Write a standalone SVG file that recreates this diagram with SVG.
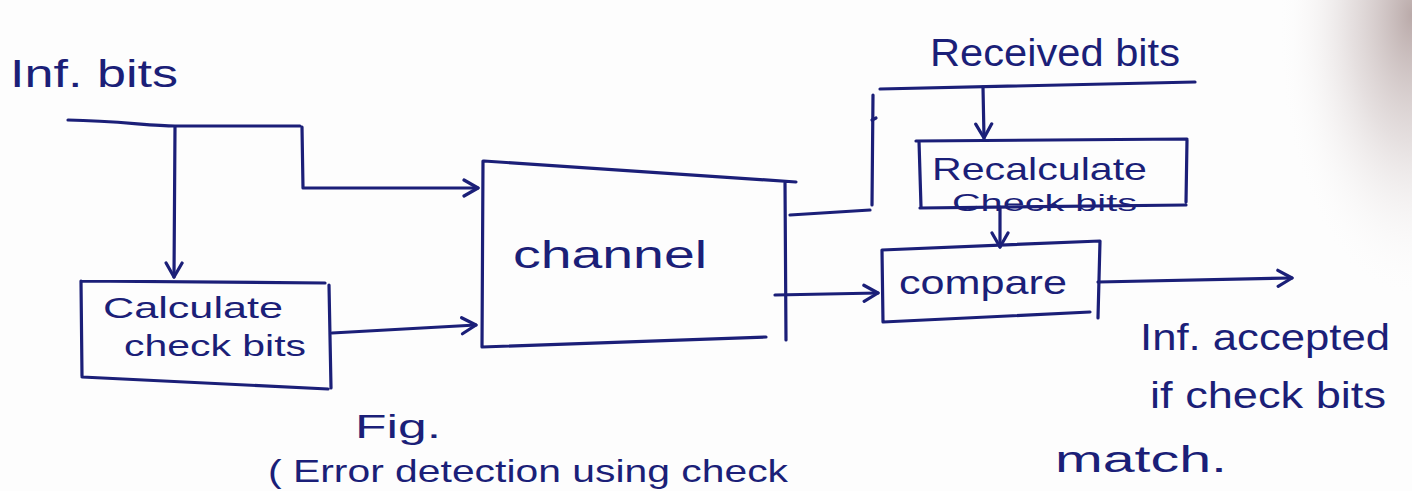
<svg xmlns="http://www.w3.org/2000/svg" width="1412" height="491" viewBox="0 0 1412 491">
  <defs>
    <style>
      .ink { fill: none; stroke: #1b1f78; stroke-width: 3.2; stroke-linecap: round; stroke-linejoin: round; }
      .lbl { fill: #1b1f78; font-family: "Liberation Sans", "DejaVu Sans", sans-serif; }
    </style>
    <marker id="arrow" viewBox="0 0 20 20" refX="18" refY="10" markerWidth="20" markerHeight="20" markerUnits="userSpaceOnUse" orient="auto">
      <path d="M4,2 L18,10 L4,18" fill="none" stroke="#1b1f78" stroke-width="3.2" stroke-linecap="round" stroke-linejoin="round"/>
    </marker>
    <!-- soft shadow along the right edge of the sheet -->
    <radialGradient id="shade" cx="1" cy="0.1" r="0.9" fx="1" fy="0.05">
      <stop offset="0" stop-color="#a99594" stop-opacity="0.8"/>
      <stop offset="0.45" stop-color="#c9bcbc" stop-opacity="0.45"/>
      <stop offset="1" stop-color="#ffffff" stop-opacity="0"/>
    </radialGradient>
  </defs>

  <!-- paper -->
  <rect x="0" y="0" width="1412" height="491" fill="#fdfdfd"/>
  <rect x="1262" y="0" width="150" height="300" fill="url(#shade)"/>

  <!-- connectors -->
  <g id="connectors" class="ink">
    <!-- information bits fan-out -->
    <path d="M68,120 C120,121 150,126 175,126 L300,126"/>
    <path d="M175,127 L174,277" marker-end="url(#arrow)"/>
    <path d="M302,127 L303,188 L478,188" marker-end="url(#arrow)"/>
    <!-- check bits into channel -->
    <path d="M332,333 L476,325" marker-end="url(#arrow)"/>
    <!-- channel output to recalculation -->
    <path d="M790,215 L870,210"/>
    <path d="M872,205 L873,95"/>
    <path d="M872,120 L876,118"/>
    <path d="M880,89 L1195,82"/>
    <path d="M983,87 L984,138" marker-end="url(#arrow)"/>
    <!-- recalculated bits to compare -->
    <path d="M1000,207 L1000,247" marker-end="url(#arrow)"/>
    <!-- channel output to compare -->
    <path d="M775,295 L878,293" marker-end="url(#arrow)"/>
    <!-- accepted output -->
    <path d="M1098,282 L1292,278" marker-end="url(#arrow)"/>
  </g>

  <!-- source label -->
  <g id="inf-bits">
    <text class="lbl" x="10" y="87" font-size="38" textLength="168" lengthAdjust="spacingAndGlyphs">Inf. bits</text>
  </g>

  <!-- check bit calculator -->
  <g id="calculate">
    <path class="ink" d="M81,281 L325,283 M329,285 L331,388 M328,389 L82,377 M82,376 L81,281"/>
    <text class="lbl" x="103" y="318" font-size="30" textLength="180" lengthAdjust="spacingAndGlyphs">Calculate</text>
    <text class="lbl" x="124" y="356" font-size="30" textLength="182" lengthAdjust="spacingAndGlyphs">check bits</text>
  </g>

  <!-- channel -->
  <g id="channel">
    <path class="ink" d="M484,161 L796,182 M785,182 L786,340 M766,337 L482,347 M482,347 L483,161"/>
    <text class="lbl" x="513" y="268" font-size="38" textLength="194" lengthAdjust="spacingAndGlyphs">channel</text>
  </g>

  <!-- received bits label -->
  <g id="received">
    <text class="lbl" x="930" y="66" font-size="38" textLength="250" lengthAdjust="spacingAndGlyphs">Received bits</text>
  </g>

  <!-- recalculation block -->
  <g id="recalculate">
    <path class="ink" d="M916,141 L1187,139 M1187,140 L1186,202 M1186,205 L920,208 M921,207 L919,141"/>
    <text class="lbl" x="932" y="180" font-size="32" textLength="215" lengthAdjust="spacingAndGlyphs">Recalculate</text>
    <text class="lbl" x="952" y="211" font-size="24" textLength="185" lengthAdjust="spacingAndGlyphs">Check bits</text>
  </g>

  <!-- comparator -->
  <g id="compare">
    <path class="ink" d="M882,250 L1100,241 M1100,241 L1098,318 M1090,312 L883,322 M883,322 L882,250"/>
    <text class="lbl" x="899" y="294" font-size="34" textLength="168" lengthAdjust="spacingAndGlyphs">compare</text>
  </g>

  <!-- outcome note -->
  <g id="accepted">
    <text class="lbl" x="1140" y="350" font-size="36" textLength="250" lengthAdjust="spacingAndGlyphs">Inf. accepted</text>
    <text class="lbl" x="1150" y="408" font-size="36" textLength="236" lengthAdjust="spacingAndGlyphs">if check bits</text>
    <text class="lbl" x="1055" y="472" font-size="36" textLength="172" lengthAdjust="spacingAndGlyphs">match.</text>
  </g>

  <!-- figure caption -->
  <g id="caption">
    <text class="lbl" x="355" y="438" font-size="34" textLength="86" lengthAdjust="spacingAndGlyphs">Fig.</text>
    <text class="lbl" x="268" y="482" font-size="32" textLength="520" lengthAdjust="spacingAndGlyphs">( Error detection using check</text>
  </g>
</svg>
